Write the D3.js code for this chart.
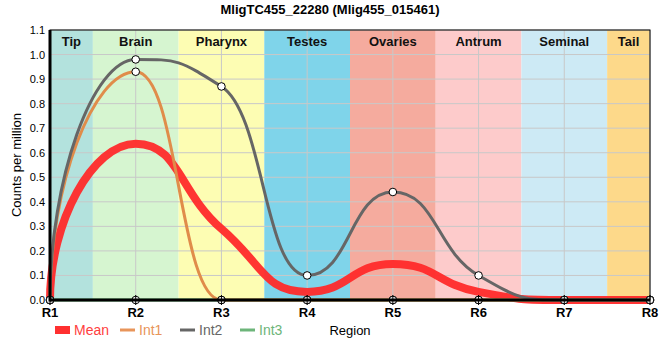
<!DOCTYPE html>
<html><head><meta charset="utf-8">
<script src="https://cdn.jsdelivr.net/npm/d3@7"></script>
<style>body{margin:0;background:#fff;font-family:"Liberation Sans",Arial,sans-serif}</style>
</head><body><svg id="c" width="660" height="360"></svg>
<script>
const regions = ["R1","R2","R3","R4","R5","R6","R7","R8"];
const bandNames = ["Tip","Brain","Pharynx","Testes","Ovaries","Antrum","Seminal","Tail"];
const bandColors = ["#b3e2dd","#d6f5d0","#fdfdb3","#7fd4ea","#f5ab9e","#fdcbcb","#cdeaf5","#fdd98a"];
const bandStart = [0,0.5,1.5,2.5,3.5,4.5,5.5,6.5];
const bandEnd   = [0.5,1.5,2.5,3.5,4.5,5.5,6.5,7];
const int1 = [0,0.93,0,0,0,0,0,0];
const int2 = [0,0.98,0.87,0.10,0.44,0.10,0,0];
const int3 = [0,0,0,0,0,0,0,0];
const mean = [0,0.637,0.29,0.033,0.147,0.033,0,0];
const yTicks = [0,0.1,0.2,0.3,0.4,0.5,0.6,0.7,0.8,0.9,1.0,1.1];

const svg = d3.select("#c");
const L=50,R=650,T=30,B=300;
const x = d3.scaleLinear().domain([0,7]).range([L,R]);
const y = d3.scaleLinear().domain([0,1.1]).range([B,T]);

// smooth spline: control arms of half a step, flattened at local extremes
function spline(vals){
  const P = vals.map((v,i)=>[x(i), y(v)]);
  const n = P.length;
  const lc = P.map(p=>[p[0],p[1]]), rc = P.map(p=>[p[0],p[1]]);
  for(let i=1;i<n-1;i++){
    const [px,py]=P[i],[lx,ly]=P[i-1],[nx,ny]=P[i+1];
    let lcx=(px+lx)/2, lcy=(py+ly)/2, rcx=(px+nx)/2, rcy=(py+ny)/2;
    const corr = (rcy-lcy)*(rcx-px)/(rcx-lcx) + py - rcy;
    lcy+=corr; rcy+=corr;
    if(lcy>ly && lcy>py){lcy=Math.max(ly,py); rcy=2*py-lcy;}
    else if(lcy<ly && lcy<py){lcy=Math.min(ly,py); rcy=2*py-lcy;}
    if(rcy>ny && rcy>py){rcy=Math.max(ny,py); lcy=2*py-rcy;}
    else if(rcy<ny && rcy<py){rcy=Math.min(ny,py); lcy=2*py-rcy;}
    lc[i]=[lcx,lcy]; rc[i]=[rcx,rcy];
  }
  rc[0]=[P[0][0], P[0][1]+0.5*(P[1][1]-P[0][1])];
  lc[n-1]=[P[n-1][0], P[n-1][1]+0.5*(P[n-2][1]-P[n-1][1])];
  const p = d3.path();
  p.moveTo(P[0][0],P[0][1]);
  for(let i=1;i<n;i++) p.bezierCurveTo(rc[i-1][0],rc[i-1][1],lc[i][0],lc[i][1],P[i][0],P[i][1]);
  return p.toString();
}

svg.append("text").attr("x",330).attr("y",14).attr("text-anchor","middle")
  .attr("font-size",13).attr("font-weight","bold").text("MligTC455_22280 (Mlig455_015461)");

svg.selectAll("rect.band").data(bandNames).enter().append("rect")
  .attr("x",(d,i)=>x(bandStart[i])).attr("y",T)
  .attr("width",(d,i)=>x(bandEnd[i])-x(bandStart[i])).attr("height",B-T)
  .attr("fill",(d,i)=>bandColors[i]);
svg.selectAll("line.hg").data(yTicks).enter().append("line")
  .attr("x1",L).attr("x2",R).attr("y1",d=>y(d)).attr("y2",d=>y(d))
  .attr("stroke","#c8c8c8").attr("stroke-width",1);
svg.selectAll("line.vg").data(regions).enter().append("line")
  .attr("x1",(d,i)=>x(i)).attr("x2",(d,i)=>x(i)).attr("y1",T).attr("y2",B)
  .attr("stroke","#c8c8c8").attr("stroke-width",1);
svg.selectAll("text.band").data(bandNames).enter().append("text")
  .attr("x",(d,i)=>(x(bandStart[i])+x(bandEnd[i]))/2).attr("y",46)
  .attr("text-anchor","middle").attr("font-size",13).attr("font-weight","bold")
  .attr("fill","#111").text(d=>d);

svg.append("path").attr("d",spline(mean)).attr("fill","none").attr("stroke","#ff2a2a").attr("stroke-opacity",0.95).attr("stroke-width",8);
svg.append("path").attr("d",spline(int3)).attr("fill","none").attr("stroke","#5aab6a").attr("stroke-width",3);
svg.append("path").attr("d",spline(int1)).attr("fill","none").attr("stroke","#e08c4a").attr("stroke-width",3);
svg.append("path").attr("d",spline(int2)).attr("fill","none").attr("stroke","#666").attr("stroke-width",3);

const pts=[];
[int1,int2,int3].forEach(s=>s.forEach((v,i)=>pts.push([i,v])));
svg.selectAll("circle.m").data(pts).enter().append("circle")
  .attr("cx",d=>x(d[0])).attr("cy",d=>y(d[1])).attr("r",3.8)
  .attr("fill","#fff").attr("stroke","#000").attr("stroke-width",1);

svg.append("rect").attr("x",L).attr("y",T).attr("width",R-L).attr("height",B-T).attr("fill","none").attr("stroke","#000").attr("stroke-width",1);
svg.append("line").attr("x1",L).attr("x2",L).attr("y1",T).attr("y2",B+1.5).attr("stroke","#000").attr("stroke-width",3);
svg.append("line").attr("x1",L).attr("x2",R).attr("y1",B).attr("y2",B).attr("stroke","#000").attr("stroke-width",3);

svg.selectAll("line.xt").data(regions).enter().append("line")
  .attr("x1",(d,i)=>x(i)).attr("x2",(d,i)=>x(i)).attr("y1",B-5).attr("y2",B+5)
  .attr("stroke","#000").attr("stroke-width",1);

svg.selectAll("text.xl").data(regions).enter().append("text")
  .attr("x",(d,i)=>x(i)).attr("y",317).attr("text-anchor","middle")
  .attr("font-size",13).attr("font-weight","bold").text(d=>d);
svg.selectAll("text.yl").data(yTicks).enter().append("text")
  .attr("x",45).attr("y",d=>y(d)+4).attr("text-anchor","end")
  .attr("font-size",11).text(d=>d.toFixed(1));
svg.append("text").attr("transform","translate(21,165) rotate(-90)").attr("text-anchor","middle")
  .attr("font-size",13).text("Counts per million");
svg.append("text").attr("x",350).attr("y",335).attr("text-anchor","middle").attr("font-size",13).text("Region");

const leg = [
  {n:"Mean",c:"#ff3030",w:8,x:55,tc:"#ff4040"},
  {n:"Int1",c:"#e8955a",w:3,x:120,tc:"#e8955a"},
  {n:"Int2",c:"#666",w:3,x:180,tc:"#666"},
  {n:"Int3",c:"#6db57a",w:3,x:240,tc:"#6db57a"}];
const lg = svg.selectAll("g.lg").data(leg).enter().append("g");
lg.append("line").attr("x1",d=>d.x).attr("x2",d=>d.x+15).attr("y1",330).attr("y2",330)
  .attr("stroke",d=>d.c).attr("stroke-width",d=>d.w);
lg.append("text").attr("x",d=>d.x+19).attr("y",335).attr("font-size",14).attr("fill",d=>d.tc).text(d=>d.n);
</script></body></html>
